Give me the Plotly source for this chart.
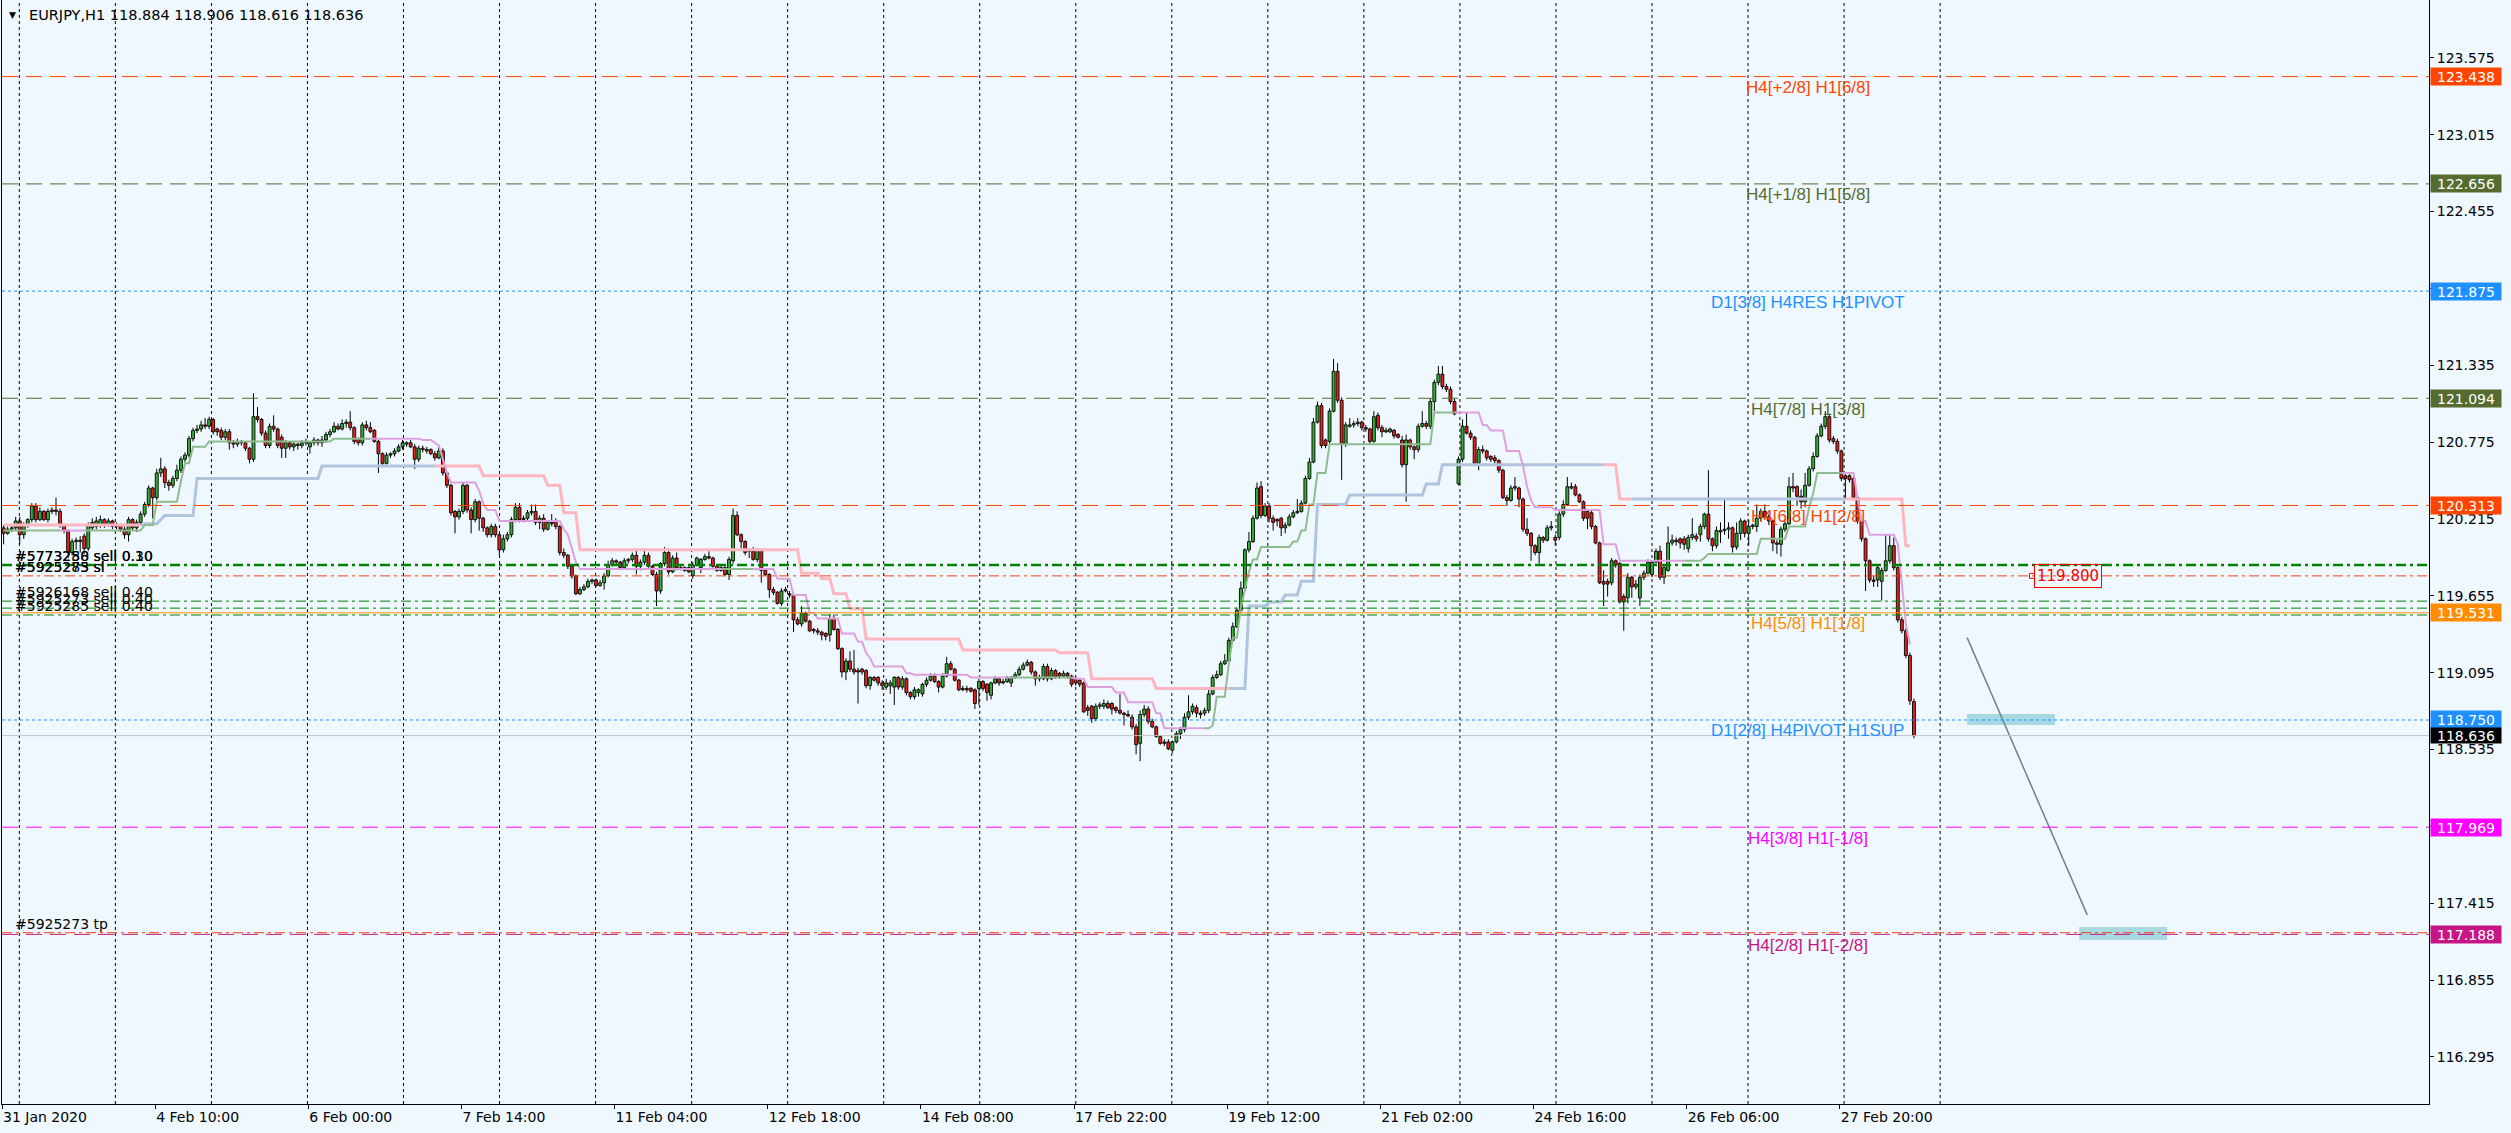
import plotly.graph_objects as go

# ---------------------------------------------------------------- data
header_text = "EURJPY,H1 118.884 118.906 118.616 118.636"

opens = [
120.15,120.11,120.14,120.15,120.20,120.10,120.17,120.21,120.31,120.21,
120.27,120.21,120.27,120.28,120.27,120.17,120.13,119.97,120.05,120.06,
120.09,120.00,120.15,120.16,120.17,120.21,120.17,120.20,120.16,120.17,
120.14,120.10,120.21,120.15,120.19,120.25,120.32,120.44,120.37,120.55,
120.58,120.48,120.46,120.51,120.57,120.65,120.68,120.80,120.86,120.87,
120.90,120.89,120.94,120.87,120.86,120.81,120.85,120.77,120.76,120.78,
120.77,120.73,120.65,120.96,120.94,120.84,120.75,120.89,120.87,120.81,
120.73,120.77,120.74,120.76,120.75,120.77,120.74,120.77,120.79,120.77,
120.79,120.83,120.85,120.89,120.87,120.91,120.92,120.88,120.80,120.77,
120.90,120.88,120.86,120.78,120.69,120.62,120.68,120.69,120.71,120.74,
120.76,120.77,120.74,120.65,120.73,120.71,120.72,120.69,120.66,120.71,
120.55,120.46,120.27,120.23,120.27,120.46,120.28,120.21,120.34,120.22,
120.15,120.10,120.16,120.10,119.99,120.07,120.10,120.21,120.30,120.21,
120.22,120.26,120.27,120.19,120.22,120.14,120.19,120.20,120.16,119.97,
119.95,119.87,119.80,119.67,119.70,119.72,119.76,119.77,119.73,119.75,
119.80,119.88,119.91,119.90,119.86,119.91,119.92,119.95,119.87,119.90,
119.95,119.87,119.81,119.69,119.89,119.97,119.83,119.93,119.86,119.86,
119.86,119.80,119.88,119.86,119.92,119.94,119.93,119.87,119.86,119.86,
119.81,119.91,120.24,120.10,120.05,119.99,119.98,119.92,119.99,119.84,
119.81,119.70,119.68,119.60,119.69,119.67,119.66,119.48,119.45,119.53,
119.47,119.41,119.40,119.39,119.38,119.37,119.49,119.41,119.27,119.10,
119.18,119.12,119.11,119.12,119.11,119.00,119.06,119.06,119.02,118.99,
119.00,118.99,119.06,118.99,119.05,118.95,118.92,118.95,118.94,119.01,
119.04,119.07,119.03,118.99,119.07,119.16,119.12,119.04,118.98,118.98,
118.98,118.97,118.98,119.03,119.01,118.93,119.02,119.05,119.02,119.03,
119.02,119.06,119.08,119.12,119.15,119.17,119.10,119.06,119.05,119.14,
119.05,119.11,119.09,119.07,119.09,119.07,119.05,119.04,119.02,118.84,
118.85,118.76,118.85,118.85,118.87,118.87,118.84,118.82,118.80,118.79,
118.77,118.70,118.58,118.79,118.83,118.74,118.70,118.63,118.59,118.59,
118.53,118.59,118.65,118.68,118.77,118.81,118.84,118.80,118.80,118.82,
118.94,119.06,119.08,119.16,119.18,119.33,119.43,119.55,119.71,119.99,
120.05,120.22,120.45,120.24,120.31,120.22,120.21,120.22,120.15,120.17,
120.23,120.26,120.27,120.33,120.51,120.63,120.92,121.04,120.79,120.78,
121.00,121.29,121.08,120.76,120.89,120.90,120.91,120.92,120.88,120.87,
120.78,120.97,120.88,120.85,120.85,120.86,120.83,120.79,120.61,120.79,
120.74,120.72,120.89,120.91,120.89,121.07,121.21,121.27,121.18,121.16,
121.07,120.47,120.65,120.89,120.84,120.81,120.62,120.72,120.71,120.67,
120.66,120.64,120.57,120.37,120.35,120.44,120.44,120.36,120.14,120.11,
120.02,119.97,120.08,120.06,120.15,120.08,120.08,120.25,120.32,120.44,
120.45,120.39,120.34,120.27,120.26,120.16,120.04,119.76,119.76,119.75,
119.91,119.89,119.65,119.64,119.79,119.72,119.64,119.79,119.82,119.81,
119.90,119.98,119.79,119.84,120.04,120.06,120.07,120.07,120.00,120.08,
120.09,120.10,120.16,120.25,120.07,120.02,120.12,120.13,120.14,120.15,
120.01,120.11,120.20,120.11,120.16,120.16,120.22,120.27,120.23,120.20,
120.04,120.03,120.14,120.18,120.45,120.45,120.38,120.34,120.46,120.58,
120.67,120.82,120.89,120.96,120.80,120.78,120.71,120.53,120.53,120.51,
120.37,120.20,120.07,119.91,119.77,119.77,119.76,119.84,119.91,120.02,
119.86,119.48,119.40,119.22,118.884]

highs = [
120.17,120.16,120.17,120.23,120.23,120.19,120.22,120.33,120.33,120.30,
120.28,120.29,120.30,120.37,120.29,120.18,120.14,120.07,120.08,120.09,
120.11,120.19,120.22,120.23,120.24,120.22,120.22,120.21,120.19,120.18,
120.16,120.23,120.22,120.21,120.27,120.34,120.46,120.45,120.58,120.66,
120.60,120.50,120.53,120.61,120.67,120.70,120.82,120.88,120.90,120.93,
120.95,120.96,120.95,120.88,120.88,120.87,120.87,120.79,120.80,120.79,
120.78,120.74,121.13,121.03,120.95,120.86,120.91,120.97,120.88,120.83,
120.79,120.78,120.78,120.77,120.79,120.80,120.78,120.81,120.80,120.82,
120.85,120.87,120.92,120.91,120.94,120.94,121.00,120.89,120.81,120.92,
120.93,120.92,120.87,120.79,120.70,120.70,120.70,120.73,120.76,120.79,
120.78,120.79,120.76,120.75,120.75,120.74,120.73,120.71,120.74,120.73,
120.56,120.47,120.28,120.29,120.48,120.47,120.30,120.36,120.35,120.23,
120.16,120.18,120.18,120.11,120.10,120.12,120.23,120.33,120.33,120.24,
120.28,120.32,120.32,120.24,120.25,120.20,120.25,120.22,120.17,120.00,
119.96,119.88,119.81,119.72,119.74,119.78,119.78,119.78,119.77,119.82,
119.91,119.93,119.92,119.91,119.93,119.93,119.97,119.99,119.92,119.99,
119.97,119.88,119.83,119.90,120.01,120.00,119.95,119.97,119.87,119.87,
119.87,119.90,119.94,119.93,119.96,119.98,119.94,119.88,119.87,119.87,
119.94,120.29,120.27,120.11,120.06,120.00,120.01,120.00,120.00,119.85,
119.82,119.72,119.69,119.71,119.72,119.69,119.68,119.50,119.58,119.54,
119.48,119.42,119.42,119.40,119.39,119.52,119.52,119.42,119.28,119.20,
119.25,119.26,119.13,119.13,119.12,119.07,119.07,119.07,119.04,119.05,
119.04,119.07,119.07,119.07,119.06,118.96,118.99,118.98,119.02,119.06,
119.09,119.09,119.04,119.09,119.21,119.18,119.13,119.05,119.00,119.00,
118.99,118.98,119.05,119.04,119.02,119.03,119.07,119.06,119.05,119.07,
119.07,119.10,119.14,119.17,119.19,119.18,119.11,119.08,119.16,119.16,
119.13,119.12,119.10,119.11,119.10,119.08,119.06,119.05,119.03,118.86,
118.86,118.87,118.88,118.90,118.89,118.88,118.85,118.94,118.81,118.82,
118.79,118.72,118.82,118.86,118.85,118.76,118.71,118.64,118.61,118.61,
118.60,118.67,118.70,118.80,118.93,118.87,118.86,118.82,118.84,118.97,
119.08,119.11,119.18,119.23,119.35,119.46,119.57,119.76,120.00,120.12,
120.24,120.48,120.49,120.33,120.33,120.24,120.22,120.23,120.19,120.25,
120.28,120.36,120.35,120.53,120.66,120.95,121.07,121.06,120.80,121.02,
121.38,121.35,121.10,120.92,120.95,120.93,120.95,120.93,120.90,120.88,
121.00,120.99,120.90,120.88,120.88,120.87,120.84,120.82,120.83,120.80,
120.75,120.91,121.00,120.93,121.09,121.23,121.33,121.33,121.20,121.18,
121.09,120.67,120.94,120.99,120.86,120.82,120.74,120.75,120.72,120.68,
120.68,120.65,120.58,120.39,120.46,120.52,120.45,120.37,120.22,120.12,
120.03,120.10,120.09,120.17,120.20,120.10,120.27,120.35,120.52,120.48,
120.47,120.40,120.35,120.28,120.28,120.17,120.05,119.84,119.78,119.93,
119.92,119.90,119.67,119.82,119.80,119.77,119.81,119.84,119.92,119.91,
120.00,120.02,119.88,120.16,120.10,120.08,120.08,120.09,120.10,120.22,
120.11,120.18,120.26,120.57,120.08,120.16,120.19,120.36,120.19,120.16,
120.19,120.22,120.21,120.21,120.18,120.32,120.29,120.32,120.25,120.21,
120.06,120.16,120.21,120.52,120.55,120.46,120.43,120.55,120.60,120.70,
120.84,120.91,121.00,120.98,120.82,120.80,120.72,120.54,120.54,120.53,
120.38,120.21,120.08,119.92,119.80,119.88,119.86,120.10,120.10,120.08,
119.87,119.50,119.42,119.24,118.906]

lows = [
120.03,120.10,120.12,120.13,120.03,120.07,120.15,120.19,120.19,120.20,
120.20,120.19,120.25,120.24,120.15,120.11,119.93,119.95,119.99,119.97,
119.96,119.98,120.13,120.14,120.15,120.15,120.16,120.14,120.14,120.12,
120.07,120.05,120.13,120.12,120.17,120.23,120.30,120.22,120.35,120.52,
120.44,120.42,120.44,120.49,120.55,120.63,120.66,120.78,120.84,120.85,
120.87,120.87,120.83,120.82,120.79,120.79,120.72,120.73,120.74,120.75,
120.71,120.62,120.63,120.92,120.82,120.73,120.73,120.85,120.73,120.66,
120.66,120.72,120.71,120.72,120.73,120.75,120.69,120.75,120.75,120.74,
120.77,120.81,120.84,120.86,120.86,120.88,120.86,120.76,120.75,120.75,
120.86,120.84,120.77,120.55,120.60,120.61,120.66,120.67,120.70,120.72,
120.74,120.73,120.58,120.63,120.70,120.69,120.68,120.64,120.65,120.53,
120.44,120.24,120.11,120.21,120.25,120.26,120.11,120.19,120.13,120.12,
120.08,120.08,120.08,119.95,119.97,120.05,120.08,120.19,120.19,120.19,
120.20,120.24,120.17,120.14,120.12,120.13,120.16,120.14,119.95,119.93,
119.85,119.78,119.66,119.66,119.69,119.71,119.74,119.72,119.72,119.70,
119.79,119.87,119.88,119.85,119.85,119.89,119.90,119.81,119.84,119.88,
119.86,119.80,119.58,119.67,119.87,119.81,119.82,119.84,119.84,119.83,
119.82,119.78,119.87,119.82,119.91,119.92,119.86,119.83,119.83,119.80,
119.77,119.89,120.09,120.00,119.95,119.93,119.91,119.90,119.75,119.80,
119.64,119.66,119.59,119.58,119.68,119.64,119.39,119.44,119.43,119.46,
119.39,119.38,119.37,119.33,119.33,119.32,119.40,119.26,119.06,119.04,
119.10,119.08,118.87,119.08,118.98,118.97,119.03,119.00,118.97,118.97,
118.94,118.86,118.97,118.97,118.93,118.90,118.90,118.92,118.92,118.99,
119.03,119.02,118.95,118.98,119.06,119.11,119.03,118.96,118.96,118.95,
118.95,118.83,118.86,118.96,118.89,118.90,119.01,119.00,119.01,119.02,
118.99,119.05,119.07,119.11,119.14,119.08,119.00,119.03,119.04,119.03,
119.04,119.05,119.05,119.06,119.05,118.99,119.00,118.99,118.80,118.78,
118.73,118.74,118.83,118.83,118.83,118.79,118.80,118.79,118.71,118.77,
118.68,118.50,118.45,118.77,118.72,118.69,118.62,118.57,118.56,118.53,
118.51,118.58,118.61,118.66,118.75,118.79,118.77,118.76,118.78,118.80,
118.93,119.05,119.07,119.15,119.17,119.32,119.42,119.54,119.69,119.97,
120.04,120.21,120.22,120.23,120.19,120.13,120.16,120.09,120.11,120.16,
120.22,120.25,120.26,120.32,120.50,120.62,120.91,120.73,120.73,120.76,
120.99,121.06,120.50,120.74,120.88,120.88,120.89,120.86,120.85,120.76,
120.77,120.86,120.81,120.84,120.84,120.80,120.80,120.59,120.34,120.72,
120.65,120.70,120.88,120.87,120.87,121.00,121.19,121.16,121.14,121.05,
120.97,120.46,120.63,120.83,120.79,120.60,120.57,120.69,120.64,120.63,
120.62,120.55,120.36,120.31,120.34,120.42,120.30,120.12,120.09,119.91,
119.95,119.89,120.04,120.05,120.13,120.02,120.06,120.23,120.31,120.43,
120.38,120.33,120.20,120.14,120.14,120.03,119.74,119.58,119.65,119.73,
119.86,119.60,119.40,119.60,119.64,119.70,119.58,119.77,119.81,119.79,
119.89,119.77,119.74,119.83,120.02,120.02,120.00,119.99,119.97,120.06,
120.05,120.05,120.14,120.05,119.98,120.00,120.04,120.10,120.07,119.97,
119.99,120.06,120.08,120.02,120.14,120.12,120.20,120.21,120.17,119.98,
119.96,119.94,120.12,120.17,120.41,120.31,120.29,120.30,120.45,120.56,
120.66,120.81,120.87,120.77,120.76,120.69,120.49,120.36,120.48,120.35,
120.18,120.05,119.69,119.75,119.72,119.72,119.62,119.83,119.89,119.84,
119.46,119.38,119.20,118.86,118.616]

closes = [
120.11,120.14,120.15,120.20,120.10,120.17,120.21,120.31,120.21,120.27,
120.21,120.27,120.28,120.27,120.17,120.13,119.97,120.05,120.06,120.05,
120.00,120.17,120.19,120.20,120.21,120.17,120.20,120.16,120.17,120.14,
120.10,120.21,120.15,120.19,120.25,120.32,120.44,120.37,120.55,120.58,
120.48,120.46,120.51,120.57,120.65,120.68,120.80,120.86,120.87,120.90,
120.89,120.94,120.85,120.85,120.81,120.85,120.77,120.76,120.78,120.77,
120.73,120.65,120.96,120.94,120.84,120.75,120.89,120.87,120.75,120.73,
120.77,120.74,120.76,120.75,120.77,120.78,120.77,120.79,120.77,120.79,
120.83,120.85,120.89,120.87,120.91,120.92,120.88,120.78,120.77,120.90,
120.88,120.85,120.78,120.69,120.62,120.68,120.69,120.71,120.74,120.77,
120.77,120.74,120.65,120.73,120.72,120.72,120.69,120.66,120.71,120.55,
120.46,120.26,120.23,120.27,120.46,120.28,120.21,120.34,120.22,120.15,
120.10,120.16,120.10,119.99,120.07,120.10,120.21,120.30,120.21,120.22,
120.26,120.27,120.19,120.22,120.14,120.19,120.18,120.16,119.97,119.95,
119.87,119.80,119.67,119.70,119.72,119.76,119.77,119.73,119.75,119.80,
119.88,119.91,119.90,119.86,119.91,119.92,119.95,119.87,119.90,119.95,
119.87,119.81,119.69,119.89,119.97,119.83,119.93,119.86,119.85,119.84,
119.83,119.88,119.93,119.92,119.94,119.93,119.87,119.84,119.84,119.81,
119.92,120.24,120.10,120.05,119.97,119.98,119.92,119.99,119.84,119.81,
119.70,119.68,119.60,119.69,119.70,119.66,119.48,119.45,119.53,119.47,
119.40,119.40,119.39,119.37,119.36,119.49,119.41,119.27,119.10,119.18,
119.12,119.10,119.10,119.10,119.00,119.06,119.04,119.02,119.00,119.02,
119.02,119.06,118.99,119.05,118.95,118.92,118.97,118.97,119.01,119.04,
119.07,119.03,118.99,119.07,119.16,119.12,119.04,118.97,118.97,118.97,
118.96,118.87,119.03,118.98,118.95,119.02,119.05,119.02,119.03,119.06,
119.06,119.08,119.12,119.15,119.17,119.10,119.05,119.05,119.14,119.05,
119.11,119.06,119.07,119.09,119.07,119.01,119.02,119.01,118.81,118.82,
118.76,118.85,118.86,118.87,118.84,118.83,118.82,118.80,118.79,118.78,
118.70,118.57,118.79,118.83,118.74,118.70,118.63,118.58,118.58,118.54,
118.59,118.65,118.68,118.77,118.81,118.85,118.80,118.79,118.82,118.94,
119.06,119.08,119.16,119.18,119.33,119.43,119.55,119.71,119.99,120.05,
120.22,120.44,120.24,120.31,120.22,120.19,120.20,120.15,120.17,120.23,
120.26,120.27,120.33,120.51,120.63,120.92,121.04,120.75,120.75,121.00,
121.29,121.08,120.76,120.90,120.90,120.91,120.92,120.88,120.87,120.78,
120.96,120.88,120.85,120.86,120.87,120.82,120.81,120.61,120.79,120.74,
120.72,120.89,120.91,120.89,121.07,121.21,121.27,121.18,121.16,121.07,
120.98,120.65,120.89,120.84,120.81,120.62,120.72,120.71,120.66,120.65,
120.64,120.57,120.37,120.35,120.44,120.45,120.36,120.14,120.11,120.02,
119.97,120.08,120.06,120.15,120.16,120.06,120.25,120.32,120.45,120.45,
120.39,120.34,120.22,120.22,120.16,120.04,119.75,119.74,119.74,119.91,
119.88,119.61,119.61,119.79,119.72,119.74,119.79,119.82,119.90,119.90,
119.98,119.79,119.86,120.04,120.06,120.05,120.04,120.03,120.08,120.10,
120.07,120.16,120.25,120.07,120.02,120.13,120.13,120.14,120.15,120.01,
120.11,120.20,120.11,120.16,120.17,120.22,120.27,120.23,120.20,120.04,
120.03,120.14,120.18,120.45,120.44,120.38,120.34,120.46,120.58,120.67,
120.82,120.89,120.96,120.79,120.78,120.71,120.51,120.51,120.50,120.37,
120.20,120.07,119.91,119.77,119.76,119.86,119.84,119.91,120.02,119.86,
119.48,119.40,119.22,118.89,118.636]

# time axis labels (bar index where each label sits)
x_tick_bars = [0, 38, 76, 114, 152, 190, 228, 266, 304, 342, 380, 418, 456]
x_tick_labels = ["31 Jan 2020", "4 Feb 10:00", "6 Feb 00:00", "7 Feb 14:00",
                 "11 Feb 04:00", "12 Feb 18:00", "14 Feb 08:00", "17 Feb 22:00",
                 "19 Feb 12:00", "21 Feb 02:00", "24 Feb 16:00", "26 Feb 06:00",
                 "27 Feb 20:00"]

y_tick_values = [116.295, 116.855, 117.415, 117.975, 118.535, 119.095, 119.655,
                 120.215, 120.775, 121.335, 121.895, 122.455, 123.015, 123.575]

# slow trailing line: segment start bar, level, 1 = up (steel blue) / 0 = down (pink)
slow_start = [0, 35, 39, 40, 48, 79, 108, 119, 135, 139, 143, 198, 203, 206, 210,
              214, 238, 262, 270, 286, 305, 309, 314, 318, 322, 326, 334, 353,
              357, 398, 401, 405, 458, 472]
slow_level = [120.17, 120.18, 120.21, 120.24, 120.51, 120.60, 120.60, 120.53,
              120.46, 120.26, 119.99, 119.82, 119.78, 119.67, 119.56, 119.34,
              119.26, 119.24, 119.05, 118.98, 118.98, 119.58, 119.61, 119.66,
              119.76, 120.32, 120.39, 120.47, 120.61, 120.61, 120.36, 120.36,
              120.36, 120.02]
slow_up = [0, 1, 1, 1, 1, 1, 0, 0, 0, 0, 0, 0, 0, 0, 0, 0, 0, 0, 0, 0, 1, 1, 1,
           1, 1, 1, 1, 1, 1, 0, 0, 1, 0, 0]

# fast trailing line: 1 = up (dark sea green) / 0 = down (plum)
fast_start = [0, 15, 21, 35, 38, 44, 45, 47, 51, 82, 92, 104, 107, 108, 109, 110,
              111, 118, 119, 120, 123, 139, 140, 141, 142, 143, 179, 187, 192,
              196, 200, 202, 208, 212, 214, 215, 216, 224, 226, 240, 251, 266,
              269, 276, 279, 286, 288, 299, 300, 301, 304, 305, 307, 308, 309,
              310, 312, 320, 322, 324, 326, 329, 355, 361, 367, 369, 373, 377,
              378, 379, 380, 385, 397, 401, 418, 422, 423, 436, 443, 448, 449,
              450, 457, 460, 461, 463, 470, 471, 472, 473]
fast_level = [120.13, 120.13, 120.13, 120.17, 120.34, 120.49, 120.62, 120.74,
              120.78, 120.80, 120.80, 120.79, 120.77, 120.75, 120.65, 120.55,
              120.48, 120.42, 120.33, 120.28, 120.20, 120.14, 120.10, 120.00,
              119.90, 119.85, 119.85, 119.85, 119.78, 119.66, 119.53, 119.49,
              119.38, 119.32, 119.24, 119.20, 119.14, 119.09, 119.08, 119.06,
              119.06, 119.05, 118.99, 118.95, 118.88, 118.80, 118.69, 118.69,
              118.71, 118.92, 119.16, 119.35, 119.57, 119.70, 119.83, 119.92,
              120.01, 120.05, 120.13, 120.32, 120.55, 120.76, 120.99, 120.99,
              120.90, 120.86, 120.71, 120.60, 120.45, 120.35, 120.30, 120.28,
              120.03, 119.91, 119.91, 119.93, 119.96, 120.07, 120.16, 120.30,
              120.40, 120.55, 120.55, 120.37, 120.20, 120.10, 120.03, 119.75,
              119.45, 119.30]
fast_up = [1, 0, 1, 1, 1, 1, 1, 1, 1, 1, 0, 0, 0, 0, 0, 0, 0, 0, 0, 0, 0, 0, 0,
           0, 0, 0, 1, 0, 0, 0, 0, 0, 0, 0, 0, 0, 0, 0, 0, 0, 1, 0, 0, 0, 0, 0,
           0, 1, 1, 1, 1, 1, 1, 1, 1, 1, 1, 1, 1, 1, 1, 1, 1, 0, 0, 0, 0, 0, 0,
           0, 0, 0, 0, 0, 1, 1, 1, 1, 1, 1, 1, 1, 0, 0, 0, 0, 0, 0, 0, 0]
line_last_bar = 473

# Murrey-math style levels
level_prices = [123.438, 122.656, 121.875, 121.094, 120.313, 119.531, 118.750,
                117.969, 117.188]
level_names = ["H4[+2/8] H1[6/8]", "H4[+1/8] H1[5/8]", "D1[3/8] H4RES H1PIVOT",
               "H4[7/8] H1[3/8]", "H4[6/8] H1[2/8]", "H4[5/8] H1[1/8]",
               "D1[2/8] H4PIVOT H1SUP", "H4[3/8] H1[-1/8]", "H4[2/8] H1[-2/8]"]
level_colors = ["#FF4500", "#556B2F", "#1E90FF", "#556B2F", "#FF4500", "#FF8C00",
                "#1E90FF", "#FF00FF", "#C71585"]
level_dash = ["16px,8px", "16px,8px", "3px,3px", "16px,8px", "16px,8px", "solid",
              "3px,3px", "16px,8px", "16px,8px"]
level_label_bar = 447.7

bid_price = 118.636

# trade lines
order_prices = [119.879, 119.616, 119.565, 119.515]
order_widths = [2.5, 1, 1, 1]
order_texts = [["#5773258 sell 0.30", "#5773280 sell 0.10"],
               ["#5926168 sell 0.40"], ["#5925273 sell 0.40"], ["#5925285 sell 0.40"]]
stop_prices = [119.800, 117.200]
stop_texts = [["#5925285 sl", "#5925273 sl"], ["#5925273 tp"]]

# drawn objects in the empty area on the right
alert_price = 119.800
alert_bar = 503.8
trend_bars = [487.2, 517.0]
trend_prices = [119.35, 117.33]
zone_bars = [[487.2, 509.0], [515.0, 536.8]]
zone_prices = [[118.714, 118.794], [117.147, 117.242]]

grid_first_bar = 3.9
grid_step_bars = 23.83
grid_count = 21

# ---------------------------------------------------------------- styling
BG = "#F0F8FF"
BULL = "#35B035"
BEAR = "#E8201A"
AXIS_FONT = dict(family="DejaVu Sans", size=14, color="black")
LABEL_FONT = "Liberation Sans"

n = len(closes)
xs = list(range(n))

fig = go.Figure()

# candle wicks (outside the body only)
wx, wy = [], []
for i in range(n):
    top = max(opens[i], closes[i])
    bot = min(opens[i], closes[i])
    if highs[i] > top:
        wx += [i, i, None]
        wy += [highs[i], top, None]
    if lows[i] < bot:
        wx += [i, i, None]
        wy += [bot, lows[i], None]
fig.add_trace(go.Scatter(x=wx, y=wy, mode="lines", line=dict(color="black", width=1),
                         hoverinfo="skip", showlegend=False))

# candle bodies
fig.add_trace(go.Bar(
    x=xs,
    y=[abs(closes[i] - opens[i]) for i in range(n)],
    base=[min(opens[i], closes[i]) for i in range(n)],
    width=0.72,
    marker=dict(color=[BULL if closes[i] >= opens[i] else BEAR for i in range(n)],
                line=dict(color="black", width=0.9)),
    hoverinfo="skip", showlegend=False))


def expand(starts, levels, ups, last):
    vals, trend = [], []
    for k in range(len(starts)):
        end = starts[k + 1] if k + 1 < len(starts) else last + 1
        for _ in range(starts[k], end):
            vals.append(levels[k])
            trend.append(ups[k])
    return vals, trend


def split(vals, trend, flag):
    out = []
    for i in range(len(vals)):
        on = trend[i] == flag or (i + 1 < len(vals) and trend[i + 1] == flag)
        out.append(vals[i] if on else None)
    return out


slow_vals, slow_tr = expand(slow_start, slow_level, slow_up, line_last_bar)
fast_vals, fast_tr = expand(fast_start, fast_level, fast_up, line_last_bar)
lx = list(range(len(slow_vals)))
for ys, col, w in [(split(slow_vals, slow_tr, 1), "#B0C4DE", 3),
                   (split(slow_vals, slow_tr, 0), "#FFB6C1", 3),
                   (split(fast_vals, fast_tr, 1), "#8FBC8F", 2),
                   (split(fast_vals, fast_tr, 0), "#DDA0DD", 2)]:
    fig.add_trace(go.Scatter(x=lx, y=ys, mode="lines", connectgaps=False,
                             line=dict(color=col, width=w), hoverinfo="skip",
                             showlegend=False))

# gray trend line and little marker of the price label
fig.add_trace(go.Scatter(x=trend_bars, y=trend_prices, mode="lines",
                         line=dict(color="#6F7F8F", width=1.5), hoverinfo="skip",
                         showlegend=False))
fig.add_trace(go.Scatter(x=[alert_bar - 0.5], y=[alert_price], mode="markers",
                         marker=dict(symbol="square-open", size=5, color="red",
                                     line=dict(width=1, color="red")),
                         hoverinfo="skip", showlegend=False))

shapes = []
# vertical grid
for k in range(grid_count):
    gx = grid_first_bar + k * grid_step_bars
    shapes.append(dict(type="line", xref="x", yref="paper", x0=gx, x1=gx, y0=0, y1=1,
                       line=dict(color="black", width=1, dash="3px,3px"), layer="below"))
# zones
for (b0, b1), (p0, p1) in zip(zone_bars, zone_prices):
    shapes.append(dict(type="rect", xref="x", yref="y", x0=b0, x1=b1, y0=p0, y1=p1,
                       fillcolor="#A9D9E0", line=dict(width=0), layer="below"))
# levels
for p, c, d in zip(level_prices, level_colors, level_dash):
    shapes.append(dict(type="line", xref="paper", yref="y", x0=0, x1=1, y0=p, y1=p,
                       line=dict(color=c, width=1, dash=d)))
# current price
shapes.append(dict(type="line", xref="paper", yref="y", x0=0, x1=1, y0=bid_price,
                   y1=bid_price, line=dict(color="#C0C0C0", width=1)))
# orders
for p, w in zip(order_prices, order_widths):
    shapes.append(dict(type="line", xref="paper", yref="y", x0=0, x1=1, y0=p, y1=p,
                       line=dict(color="#008000", width=w, dash="10px,4px,3px,4px")))
for p in stop_prices:
    shapes.append(dict(type="line", xref="paper", yref="y", x0=0, x1=1, y0=p, y1=p,
                       line=dict(color="#F04010", width=1, dash="10px,4px,3px,4px")))

annotations = []
# header
annotations.append(dict(xref="paper", yref="paper", x=0, y=1, xshift=5, yshift=-15,
                        xanchor="left", yanchor="middle", showarrow=False, text="▼",
                        font=dict(family="DejaVu Sans", size=9, color="black")))
annotations.append(dict(xref="paper", yref="paper", x=0, y=1, xshift=25, yshift=-15,
                        xanchor="left", yanchor="middle", showarrow=False,
                        text=header_text,
                        font=dict(family="DejaVu Sans", size=14.5, color="black")))
# level texts and right-axis boxes
for p, name, c in zip(level_prices, level_names, level_colors):
    annotations.append(dict(xref="x", yref="y", x=level_label_bar, y=p, yshift=-11,
                            xanchor="center", yanchor="middle", showarrow=False,
                            text=name, font=dict(family=LABEL_FONT, size=17, color=c)))
    annotations.append(dict(xref="paper", yref="y", x=1, y=p, xshift=1, xanchor="left",
                            yanchor="middle", showarrow=False, text=f"{p:.3f}",
                            bgcolor=c, width=70, height=17, borderpad=0,
                            font=dict(family="DejaVu Sans", size=14, color="white")))
annotations.append(dict(xref="paper", yref="y", x=1, y=bid_price, xshift=1,
                        xanchor="left", yanchor="middle", showarrow=False,
                        text=f"{bid_price:.3f}", bgcolor="black", width=70, height=15,
                        borderpad=0,
                        font=dict(family="DejaVu Sans", size=14, color="white")))
# order texts (overlapping, as the terminal draws them)
for p, texts in list(zip(order_prices, order_texts)) + list(zip(stop_prices, stop_texts)):
    for t in texts:
        annotations.append(dict(xref="paper", yref="y", x=0, y=p, xshift=11, yshift=9,
                                xanchor="left", yanchor="middle", showarrow=False,
                                text=t, font=dict(family="DejaVu Sans", size=14,
                                                  color="black")))
# price label
annotations.append(dict(xref="x", yref="y", x=alert_bar, y=alert_price, xanchor="left",
                        yanchor="middle", showarrow=False, text=f"{alert_price:.3f}",
                        bordercolor="red", borderwidth=1, borderpad=2,
                        font=dict(family="DejaVu Sans", size=15, color="red")))

fig.update_layout(
    width=2511, height=1133,
    margin=dict(l=2, r=82, t=0, b=29),
    paper_bgcolor=BG, plot_bgcolor=BG,
    showlegend=False, bargap=0,
    shapes=shapes, annotations=annotations,
    xaxis=dict(range=[-0.4, 601.8], showgrid=False, zeroline=False,
               tickmode="array", tickvals=[b - 0.4 for b in x_tick_bars],
               ticktext=x_tick_labels, ticks="outside", ticklen=4,
               tickcolor="black", ticklabelposition="outside right",
               tickfont=AXIS_FONT, showline=True, linecolor="black", linewidth=1,
               mirror=True, fixedrange=True),
    yaxis=dict(range=[115.952, 123.996], side="right", showgrid=False,
               zeroline=False, tickmode="array", tickvals=y_tick_values,
               ticktext=[f"{v:.3f}" for v in y_tick_values], ticks="outside",
               ticklen=4, tickcolor="black", tickfont=AXIS_FONT, showline=True,
               linecolor="black", linewidth=1, mirror=True, fixedrange=True),
    hovermode=False,
)

fig.write_html("out.html", config={"displayModeBar": False, "staticPlot": True},
               post_script="document.body.style.margin='0';")
